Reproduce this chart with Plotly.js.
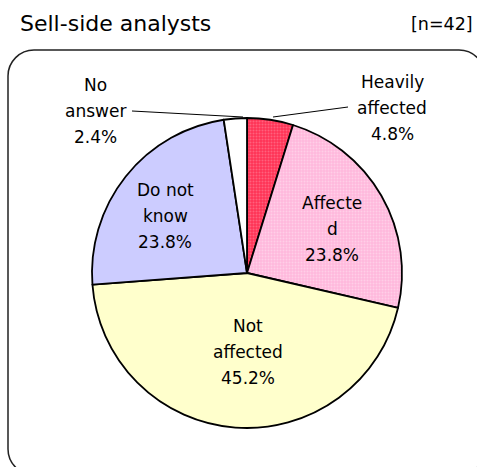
<!DOCTYPE html>
<html>
<head>
<meta charset="utf-8">
<script src="https://cdn.plot.ly/plotly-3.0.1.min.js"></script>
<style>html,body{margin:0;padding:0;background:#fff;}#chart{width:477px;height:467px;}</style>
</head>
<body>
<div id="chart"></div>
<script>
// ---- data ----
const categories = ['Heavily affected', 'Affected', 'Not affected', 'Do not know', 'No answer'];
const displayLabels = [['Heavily', 'affected'], ['Affecte', 'd'], ['Not', 'affected'], ['Do not', 'know'], ['No', 'answer']];
const values = [4.8, 23.8, 45.2, 23.8, 2.4];
const chartTitle = 'Sell-side analysts';
const sampleNote = '[n=42]';

// ---- styling ----
const W = 477, H = 467;
const FONT = '"DejaVu Sans", sans-serif';
const sliceColors = ['#ff3355', '#ffb8dc', '#ffffcc', '#ccccff', '#ffffff'];
const patFg = ['#ff8fa6', '#ffe6f2', '#ffffcc', '#ccccff', '#ffffff'];
const patShape = ['.', '.', '', '', ''];

const px = x => x / W;
const py = y => 1 - y / H;

// label anchor (center x, first-line y) and line spacing, in pixels
const labelPos = [[392, 82], [332, 203], [248, 326], [165, 190], [95, 85]];
const LINE = 26;
const leaders = [
  [[273, 117], [348, 107]],
  null, null, null,
  [[132, 111], [243, 117]]
];

const annotations = [];
categories.forEach((c, i) => {
  const lines = displayLabels[i].concat([values[i].toFixed(1) + '%']);
  lines.forEach((t, j) => {
    annotations.push({
      xref: 'paper', yref: 'paper', x: px(labelPos[i][0]), y: py(labelPos[i][1] + j * LINE),
      xanchor: 'center', yanchor: 'middle', showarrow: false,
      text: t, font: {family: FONT, size: 17, color: '#000'}
    });
  });
});
annotations.push({xref: 'paper', yref: 'paper', x: px(18), y: py(24), xanchor: 'left', yanchor: 'middle',
  showarrow: false, text: chartTitle, font: {family: FONT, size: 22, color: '#000'}});
annotations.push({xref: 'paper', yref: 'paper', x: px(475), y: py(24), xanchor: 'right', yanchor: 'middle',
  showarrow: false, text: sampleNote, font: {family: FONT, size: 17.5, color: '#000'}});

// frame with rounded corners
const fx0 = 8, fy0 = 50, fx1 = 485, fy1 = 475, r = 26, k = 0.45;
const P = (x, y) => px(x) + ',' + py(y);
const framePath = 'M' + P(fx0 + r, fy0) + ' L' + P(fx1 - r, fy0) +
  ' C' + P(fx1 - r * k, fy0) + ' ' + P(fx1, fy0 + r * k) + ' ' + P(fx1, fy0 + r) +
  ' L' + P(fx1, fy1 - r) +
  ' C' + P(fx1, fy1 - r * k) + ' ' + P(fx1 - r * k, fy1) + ' ' + P(fx1 - r, fy1) +
  ' L' + P(fx0 + r, fy1) +
  ' C' + P(fx0 + r * k, fy1) + ' ' + P(fx0, fy1 - r * k) + ' ' + P(fx0, fy1 - r) +
  ' L' + P(fx0, fy0 + r) +
  ' C' + P(fx0, fy0 + r * k) + ' ' + P(fx0 + r * k, fy0) + ' ' + P(fx0 + r, fy0) + ' Z';

const shapes = [{type: 'path', xref: 'paper', yref: 'paper', path: framePath,
  line: {color: '#222', width: 1.5}, fillcolor: 'rgba(0,0,0,0)'}];
leaders.forEach(l => {
  if (!l) return;
  shapes.push({type: 'line', xref: 'paper', yref: 'paper',
    x0: px(l[0][0]), y0: py(l[0][1]), x1: px(l[1][0]), y1: py(l[1][1]),
    line: {color: '#000', width: 1}});
});

const cx = 247, cy = 273, R = 155;
const trace = {
  type: 'pie',
  labels: categories,
  values: values,
  sort: false,
  direction: 'clockwise',
  rotation: 0,
  textinfo: 'none',
  hoverinfo: 'label+percent',
  showlegend: false,
  domain: {x: [px(cx - R), px(cx + R)], y: [py(cy + R), py(cy - R)]},
  marker: {
    colors: sliceColors,
    line: {color: '#000', width: 1.8},
    pattern: {shape: patShape, fgcolor: patFg, bgcolor: sliceColors, size: 3, solidity: 0.35, fillmode: 'overlay'}
  }
};

Plotly.newPlot('chart', [trace], {
  width: W, height: H,
  margin: {l: 0, r: 0, t: 0, b: 0},
  paper_bgcolor: '#fff',
  annotations: annotations,
  shapes: shapes,
  showlegend: false
}, {displayModeBar: false, staticPlot: true});
</script>
</body>
</html>
